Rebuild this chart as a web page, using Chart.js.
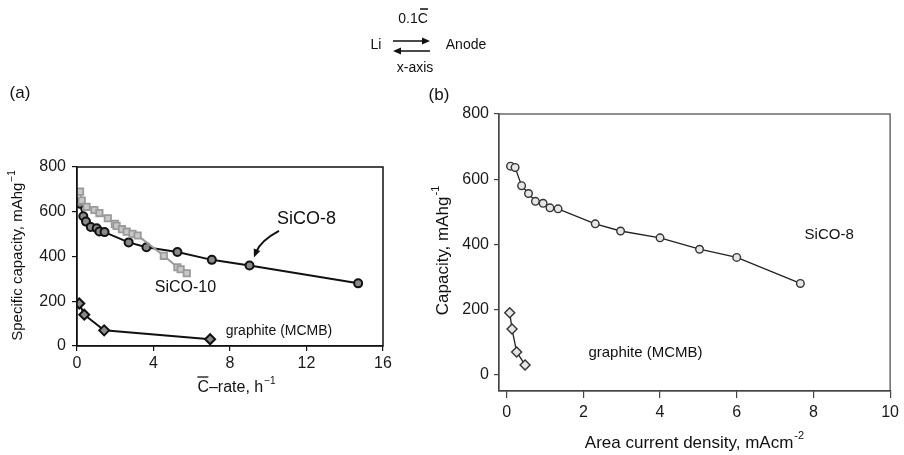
<!DOCTYPE html>
<html>
<head>
<meta charset="utf-8">
<script src="https://cdn.jsdelivr.net/npm/chart.js@4/dist/chart.umd.min.js"></script>
<style>
  body { margin: 0; background: #fff; }
  #wrap { position: relative; width: 904px; height: 455px; }
  canvas { position: absolute; left: 0; top: 0; }
</style>
</head>
<body>
<div id="wrap">
  <canvas id="chartA" width="904" height="455"></canvas>
  <canvas id="chartB" width="904" height="455"></canvas>
</div>
<script>
// Panel (a): specific capacity vs C-rate
const sico8Rate = [0.07, 0.15, 0.33, 0.47, 0.72, 1.03, 1.17, 1.44, 2.7, 3.63, 5.25, 7.05, 9.02, 14.7];
const sico8Cap = [640, 636, 580, 556, 532, 526, 512, 509, 463, 441, 420, 385, 360, 280];
const sico10Rate = [0.16, 0.25, 0.5, 0.91, 1.17, 1.61, 1.98, 2.07, 2.35, 2.6, 2.9, 3.17, 4.54, 5.25, 5.42, 5.74];
const sico10Cap = [690, 650, 622, 608, 594, 571, 546, 537, 522, 511, 501, 494, 403, 352, 343, 325];
const graphiteRate = [0.12, 0.38, 1.42, 6.96];
const graphiteCap = [190, 140, 70, 30];

// Panel (b): capacity vs area current density
const sico8Area = [0.10, 0.22, 0.39, 0.57, 0.75, 0.95, 1.13, 1.34, 2.31, 2.97, 4.0, 5.03, 6.0, 7.66];
const graphiteArea = [0.08, 0.14, 0.26, 0.48];

const ticksA_x = [0, 4, 8, 12, 16];
const ticksA_y = [0, 200, 400, 600, 800];
const ticksB_x = [0, 2, 4, 6, 8, 10];
const ticksB_y = [0, 200, 400, 600, 800];

const FONT = "'Liberation Sans', Arial, sans-serif";

function pts(xs, ys) {
  return xs.map((x, i) => ({ x: x, y: ys[i] }));
}

function txt(ctx, s, x, y, size, align, color) {
  ctx.save();
  ctx.font = size + "px " + FONT;
  ctx.fillStyle = color || "#111";
  ctx.textAlign = align || "center";
  ctx.textBaseline = "middle";
  ctx.fillText(s, x, y);
  ctx.restore();
}

// text with a raised superscript, centred on (x, y), optionally rotated
function supText(ctx, base, sup, x, y, size, rotate) {
  ctx.save();
  ctx.translate(x, y);
  if (rotate) ctx.rotate(-Math.PI / 2);
  ctx.font = size + "px " + FONT;
  const w1 = ctx.measureText(base).width;
  ctx.font = Math.round(size * 0.65) + "px " + FONT;
  const w2 = ctx.measureText(sup).width;
  const start = -(w1 + w2) / 2;
  ctx.fillStyle = "#111";
  ctx.textBaseline = "middle";
  ctx.textAlign = "left";
  ctx.font = size + "px " + FONT;
  ctx.fillText(base, start, 0);
  ctx.font = Math.round(size * 0.65) + "px " + FONT;
  ctx.fillText(sup, start + w1 + 1, -size * 0.4);
  ctx.restore();
  return start;
}

const panelA = {
  id: "panelA",
  afterDraw(chart) {
    const ctx = chart.ctx;
    const a = chart.chartArea;
    const sx = chart.scales.x, sy = chart.scales.y;
    // frame
    ctx.save();
    ctx.strokeStyle = "#111";
    ctx.lineWidth = 1.5;
    ctx.strokeRect(a.left, a.top, a.right - a.left, a.bottom - a.top);
    ctx.restore();

    // header: Li <=> Anode
    txt(ctx, "Li", 376, 45, 14);
    txt(ctx, "Anode", 466, 45, 14);
    txt(ctx, "0.1C", 413, 19, 14);
    txt(ctx, "x-axis", 415, 68, 14);
    ctx.save();
    ctx.strokeStyle = "#111";
    ctx.fillStyle = "#111";
    ctx.lineWidth = 1.5;
    ctx.beginPath();
    ctx.moveTo(420, 9); ctx.lineTo(428, 9);
    ctx.moveTo(393, 41); ctx.lineTo(424, 41);
    ctx.moveTo(398, 51); ctx.lineTo(430, 51);
    ctx.stroke();
    ctx.beginPath();
    ctx.moveTo(430, 41); ctx.lineTo(422, 37.5); ctx.lineTo(422, 44.5); ctx.closePath();
    ctx.moveTo(393, 51); ctx.lineTo(401, 47.5); ctx.lineTo(401, 54.5); ctx.closePath();
    ctx.fill();
    ctx.restore();

    txt(ctx, "(a)", 20, 93, 17);

    // axis titles
    supText(ctx, "Specific capacity, mAhg", "\u22121", 18, 256, 15, true);
    const st = supText(ctx, "C\u2013rate, h", "\u22121", 236, 388, 16, false);
    ctx.save();
    ctx.strokeStyle = "#111";
    ctx.lineWidth = 1.3;
    ctx.beginPath();
    ctx.moveTo(236 + st, 377); ctx.lineTo(236 + st + 11, 377);
    ctx.stroke();
    ctx.restore();

    // series labels
    txt(ctx, "SiCO-8", sx.getPixelForValue(12.0), sy.getPixelForValue(568), 18);
    txt(ctx, "SiCO-10", sx.getPixelForValue(5.67), sy.getPixelForValue(259), 16);
    txt(ctx, "graphite (MCMB)", sx.getPixelForValue(10.56), sy.getPixelForValue(67), 14);

    // curved arrow to SiCO-8
    const x0 = sx.getPixelForValue(10.56), y0 = sy.getPixelForValue(514);
    const x1 = sx.getPixelForValue(9.25), y1 = sy.getPixelForValue(396);
    const cx = sx.getPixelForValue(9.6), cy = sy.getPixelForValue(470);
    ctx.save();
    ctx.strokeStyle = "#111";
    ctx.fillStyle = "#111";
    ctx.lineWidth = 2;
    ctx.beginPath();
    ctx.moveTo(x0, y0);
    ctx.quadraticCurveTo(cx, cy, x1 + 2, y1 - 5);
    ctx.stroke();
    const ang = Math.atan2(y1 - cy, x1 - cx);
    ctx.beginPath();
    ctx.moveTo(x1, y1);
    ctx.lineTo(x1 - 9 * Math.cos(ang - 0.4), y1 - 9 * Math.sin(ang - 0.4));
    ctx.lineTo(x1 - 9 * Math.cos(ang + 0.4), y1 - 9 * Math.sin(ang + 0.4));
    ctx.closePath();
    ctx.fill();
    ctx.restore();
  }
};

const panelB = {
  id: "panelB",
  afterDraw(chart) {
    const ctx = chart.ctx;
    const a = chart.chartArea;
    const sx = chart.scales.x, sy = chart.scales.y;
    ctx.save();
    ctx.strokeStyle = "#444";
    ctx.lineWidth = 1.2;
    ctx.strokeRect(a.left, a.top, a.right - a.left, a.bottom - a.top);
    ctx.restore();

    txt(ctx, "(b)", 439, 95, 17);
    supText(ctx, "Capacity, mAhg", "-1", 443, 251, 17, true);
    supText(ctx, "Area current density, mAcm", "-2", 694, 443, 17, false);
    txt(ctx, "SiCO-8", sx.getPixelForValue(8.41), sy.getPixelForValue(429), 15);
    txt(ctx, "graphite (MCMB)", sx.getPixelForValue(3.62), sy.getPixelForValue(67), 15);
  }
};

function axis(min, max, ticks, width, size, fontSize, pad, tickLen, color) {
  return {
    type: "linear",
    min: min,
    max: max,
    afterBuildTicks: s => { s.ticks = ticks.map(v => ({ value: v })); },
    afterFit: s => { if (width != null) s.width = width; if (size != null) s.height = size; },
    grid: { display: true, drawOnChartArea: false, drawTicks: true, tickLength: tickLen, color: color, lineWidth: 1.2 },
    border: { display: true, color: color, width: 1.2 },
    ticks: { color: "#1a1a1a", padding: pad, font: { family: FONT, size: fontSize } }
  };
}

new Chart(document.getElementById("chartA").getContext("2d"), {
  type: "scatter",
  data: {
    datasets: [
      {
        label: "SiCO-10",
        data: pts(sico10Rate, sico10Cap),
        showLine: true,
        borderColor: "#9a9a9a",
        backgroundColor: "#c8c8c8",
        borderWidth: 2,
        pointStyle: "rect",
        pointRadius: 4.5,
        pointBorderWidth: 1.8
      },
      {
        label: "SiCO-8",
        data: pts(sico8Rate, sico8Cap),
        showLine: true,
        borderColor: "#111",
        backgroundColor: "#8a8a8a",
        borderWidth: 2,
        pointStyle: "circle",
        pointRadius: 4,
        pointBorderWidth: 2
      },
      {
        label: "graphite (MCMB)",
        data: pts(graphiteRate, graphiteCap),
        showLine: true,
        borderColor: "#111",
        backgroundColor: "#8a8a8a",
        borderWidth: 2,
        pointStyle: "rectRot",
        pointRadius: 5,
        pointBorderWidth: 2
      }
    ]
  },
  options: {
    responsive: false,
    animation: false,
    layout: { padding: { left: 0, top: 167, right: 521, bottom: 0 } },
    plugins: { legend: { display: false }, tooltip: { enabled: false } },
    scales: {
      x: axis(0, 16, ticksA_x, null, 109, 16, 3, 5, "#111"),
      y: axis(0, 800, ticksA_y, 77, null, 16, 6, 5, "#111")
    }
  },
  plugins: [panelA]
});

new Chart(document.getElementById("chartB").getContext("2d"), {
  type: "scatter",
  data: {
    datasets: [
      {
        label: "SiCO-8",
        data: pts(sico8Area, sico8Cap),
        showLine: true,
        borderColor: "#222",
        backgroundColor: "#e6e6e6",
        borderWidth: 1.3,
        pointStyle: "circle",
        pointRadius: 3.8,
        pointBorderWidth: 1.4,
        pointBorderColor: "#333"
      },
      {
        label: "graphite (MCMB)",
        data: pts(graphiteArea, graphiteCap),
        showLine: true,
        borderColor: "#222",
        backgroundColor: "#e6e6e6",
        borderWidth: 1.3,
        pointStyle: "rectRot",
        pointRadius: 5,
        pointBorderWidth: 1.4,
        pointBorderColor: "#333"
      }
    ]
  },
  options: {
    responsive: false,
    animation: false,
    layout: { padding: { left: 400, top: 114, right: 8, bottom: 0 } },
    plugins: { legend: { display: false }, tooltip: { enabled: false } },
    scales: {
      x: axis(-0.2, 10, ticksB_x, null, 64, 16, 5, 7, "#444"),
      y: axis(-50, 800, ticksB_y, 99, null, 16, 5, 5, "#444")
    }
  },
  plugins: [panelB]
});
</script>
</body>
</html>
